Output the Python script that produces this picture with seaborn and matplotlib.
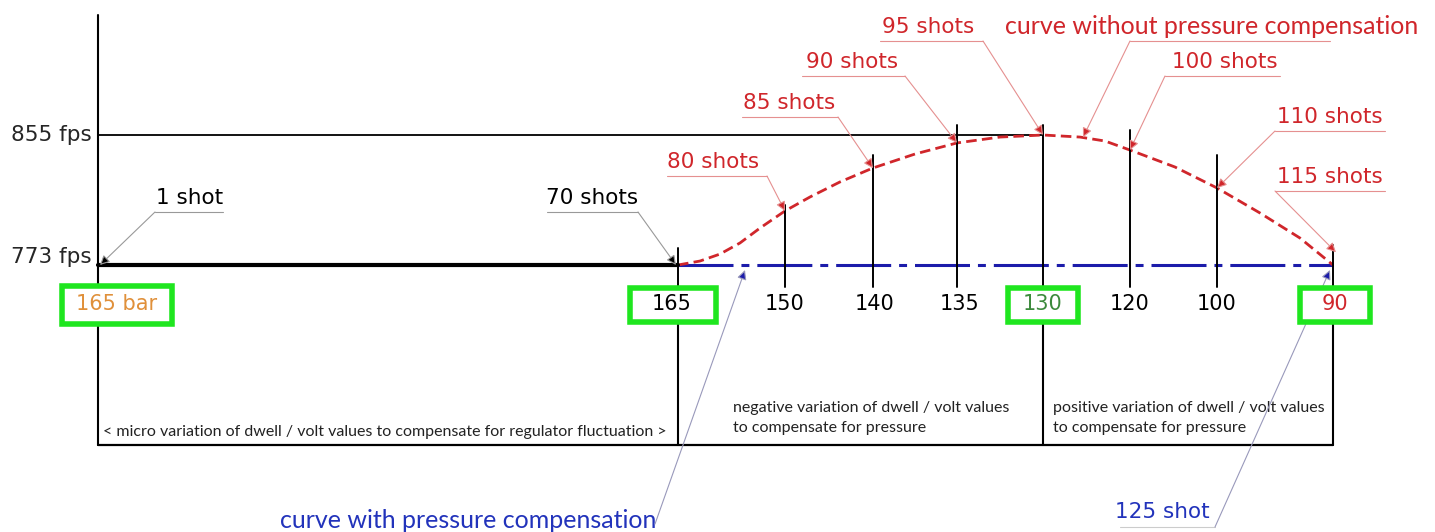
import matplotlib
matplotlib.use("Agg")
import matplotlib.pyplot as plt
import seaborn as sns
import pandas as pd
from matplotlib.patches import Rectangle

sns.set_theme(style="white")
plt.rcParams['font.family'] = ['DejaVu Sans']

# 데이터
fps_levels = [773, 855]
start_shot = "1 shot"
start_label = "165 bar"
pressure_labels = ["165", "150", "140", "135", "130", "120", "100", "90"]
shot_labels = ["70 shots", "80 shots", "85 shots", "90 shots", "95 shots",
               "100 shots", "110 shots", "115 shots"]
station_pos = [678, 785, 873, 957, 1043, 1130, 1217, 1333]
station_fps = [773, 807, 834, 850, 855, 845.5, 821.5, 773]

# curve without pressure compensation
curve_pos = [678, 700, 720, 740, 760, 785, 810, 840, 873, 915, 957, 1000, 1043,
             1080, 1105, 1130, 1175, 1217, 1260, 1300, 1333]
curve_fps = [773, 775.5, 779.9, 786.9, 796.3, 807.1, 815.9, 825.4, 834.2, 843.0,
             850.0, 853.7, 855, 853.7, 851.2, 845.5, 834.8, 821.6, 805.8, 790.0, 773]

# curve with pressure compensation
comp_pos = [678, 1333]
comp_fps = [773, 773]

RED = '#d0262b'
BLUE = '#1c1caa'
LIME = '#1fe61f'

W, H = 1435, 532
fig = plt.figure(figsize=(W / 100, H / 100), dpi=100)
ax = fig.add_axes([0, 0, 1, 1])
# fps axis: 773 fps -> y 265 px, 855 fps -> y 135 px
k = (855 - 773) / (265 - 135)
ax.set_xlim(0, W)
ax.set_ylim(773 - (H - 265) * k, 773 + 265 * k)
ax.axis('off')

lay = ax.twinx()
lay.set_ylim(H, 0)
lay.axis('off')

# 곡선
df = pd.DataFrame({'pos': curve_pos, 'fps': curve_fps})
sns.lineplot(data=df, x='pos', y='fps', ax=ax, color=RED, lw=2,
             dashes=False, zorder=3).lines[-1].set_dashes((3.8, 1.9))
dc = pd.DataFrame({'pos': comp_pos, 'fps': comp_fps})
l2 = sns.lineplot(data=dc, x='pos', y='fps', ax=ax, color=BLUE, lw=2.2, zorder=2).lines[-1]
l2.set_dashes((18, 2.6, 2.6, 2.6))
ax.plot([98, 678], [fps_levels[0]] * 2, color='black', lw=3, zorder=3)
ax.plot([98, 1043], [fps_levels[1]] * 2, color='black', lw=1.3, zorder=2)
ax.set_xlabel('')
ax.set_ylabel('')

# fps labels
for v, t in zip(fps_levels, ['773 fps', '855 fps']):
    ax.text(92, v + (5 if v == 773 else 0), t, ha='right', va='center', fontsize=15.5)

# 세로선
lay.plot([98, 98], [15, 445], color='black', lw=1.5)
tick_top = [248, 205, 155, 125, 125, 130, 155, 245]
for x, t in zip(station_pos, tick_top):
    lay.plot([x, x], [t, 287], color='black', lw=1.4, zorder=2)
for x in [678, 1043, 1333]:
    lay.plot([x, x], [322, 445], color='black', lw=1.5)
lay.plot([98, 1333], [445, 445], color='black', lw=1.6)

# 압력 라벨
label_colors = ['black'] * 8
label_colors[4] = '#3c8a3c'
label_colors[7] = RED
label_shift = [-6, 0, 2, 3, 0, 0, 0, 2]
for x, t, c, s in zip(station_pos, pressure_labels, label_colors, label_shift):
    lay.text(x + s, 304, t, ha='center', va='center',
             fontsize=15, color=c, zorder=6)
lay.text(117, 304, start_label, ha='center', va='center', fontsize=15,
         color='#e0903a', zorder=6)
boxes = [(62, 286, 110, 38), (630, 288, 86, 34), (1008, 288, 70, 34), (1300, 288, 70, 34)]
for x, y, w, h in boxes:
    lay.add_patch(Rectangle((x, y), w, h, fc='white', ec=LIME, lw=4, zorder=5))

# 하단 설명
box_font = dict(family=['Lato', 'DejaVu Sans'], fontsize=11.5, color='#222222')
lay.text(103, 432, '< micro variation of dwell / volt values to compensate for regulator fluctuation >',
         va='center', **box_font)
lay.text(733, 408, 'negative variation of dwell / volt values', va='center', **box_font)
lay.text(733, 428, 'to compensate for pressure', va='center', **box_font)
lay.text(1053, 408, 'positive variation of dwell / volt values', va='center', **box_font)
lay.text(1053, 428, 'to compensate for pressure', va='center', **box_font)


def arrow(target, start, head, line_color, tcoords=None):
    lay.annotate('', xy=target, xycoords=tcoords or lay.transData,
                 xytext=start, textcoords=lay.transData,
                 arrowprops=dict(arrowstyle='-|>', ec=line_color, fc=head, lw=0.8,
                                 mutation_scale=14, shrinkA=0, shrinkB=0), zorder=4)


def leader(text, tx, ty, x0, x1, end, target, color, line_color, **kw):
    lay.text(tx, ty, text, ha='center', va='center', color=color, **kw)
    lay.plot([x0, x1], [ty + 14, ty + 14], color=line_color, lw=0.8)
    sx = x0 if end == 'left' else x1
    arrow(target, (sx, ty + 14), color, line_color, ax.transData)


leader(start_shot, 190, 198, 155, 223, 'left', (100, 773), 'black', '#999999', fontsize=15.5)
leader(shot_labels[0], 592, 198, 547, 638, 'right', (676, 773), 'black', '#999999', fontsize=15.5)
red_text = [(713, 162, 667, 767, 'right'), (789, 103, 742, 838, 'right'),
            (852, 62, 802, 905, 'right'), (928, 27, 880, 983, 'right'),
            (1225, 62, 1165, 1280, 'left'), (1330, 117, 1275, 1385, 'left'),
            (1330, 177, 1275, 1385, 'left')]
red_idx = [1, 2, 3, 4, 5, 6, 7]
for (tx, ty, x0, x1, e), i in zip(red_text, red_idx):
    tgt = (station_pos[i] + (3 if i == 7 else 0), station_fps[i] + (8 if i == 7 else 0))
    leader(shot_labels[i], tx, ty, x0, x1, e, tgt, RED, '#e59090', fontsize=15.5)

leader('curve without pressure compensation', 1212, 27, 1130, 1330, 'left',
       (1083, 853.5), RED, '#e59090', family=['Lato', 'DejaVu Sans'], fontsize=18)

lay.text(468, 520, 'curve with pressure compensation', ha='center', va='center',
         color='#2233bb', family=['Lato', 'DejaVu Sans'], fontsize=18)
arrow((745, 270), (655, 524), BLUE, '#9999bb')
lay.text(1162, 512, '125 shot', ha='center', va='center', color='#2233bb', fontsize=15.5)
lay.plot([1120, 1215], [527, 527], color='#cccccc', lw=0.8)
arrow((1330, 270), (1215, 527), BLUE, '#9999bb')

fig.savefig('out.png', dpi=100)
